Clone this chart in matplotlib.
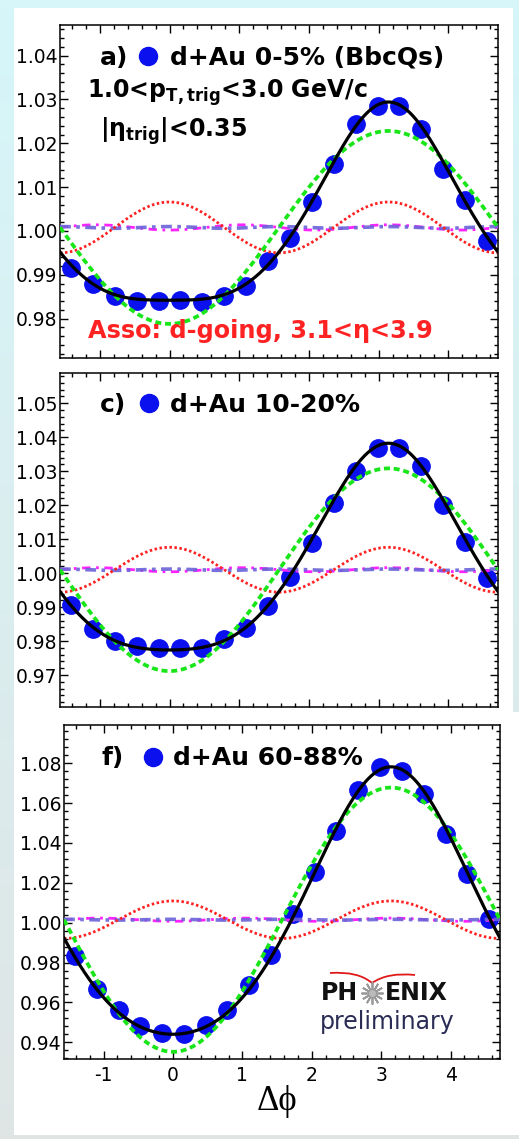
import numpy as np
import matplotlib
matplotlib.use("Agg")
import matplotlib.pyplot as plt
from matplotlib.patches import Rectangle, PathPatch
from matplotlib.path import Path
from matplotlib.ticker import MultipleLocator, FormatStrFormatter

plt.rcParams["axes.unicode_minus"] = False
W, H = 519, 1139

# bin centres in delta-phi (20 bins over [-pi/2, 3pi/2])
DPHI = [-1.414, -1.100, -0.785, -0.471, -0.157, 0.157, 0.471, 0.785, 1.100, 1.414,
        1.728, 2.042, 2.356, 2.670, 2.985, 3.299, 3.613, 3.927, 4.241, 4.555]

# correlation functions, one list per centrality class
CORR_0_5 = [0.9916, 0.9880, 0.9852, 0.9840, 0.9840, 0.9842, 0.9837, 0.9852, 0.9874, 0.9931,
            0.9985, 1.0066, 1.0153, 1.0245, 1.0284, 1.0284, 1.0232, 1.0141, 1.0070, 0.9976]
CORR_10_20 = [0.9907, 0.9836, 0.9800, 0.9786, 0.9781, 0.9781, 0.9781, 0.9805, 0.9839, 0.9902,
              0.9990, 1.0088, 1.0205, 1.0302, 1.0369, 1.0369, 1.0314, 1.0200, 1.0093, 0.9985]
CORR_60_88 = [0.9831, 0.9669, 0.9564, 0.9482, 0.9448, 0.9443, 0.9485, 0.9560, 0.9689, 0.9839,
              1.0042, 1.0254, 1.0460, 1.0664, 1.0781, 1.0759, 1.0644, 1.0446, 1.0246, 1.0020]

# Fourier fit C = b0 (1 + 2 sum_n c_n cos(n dphi)), per panel
B0 = [1.0008, 1.0010, 1.0015]
C1 = [-0.0110, -0.0149, -0.0331]
C2 = [0.0029, 0.0033, 0.0047]
C3 = [-0.0003, -0.0003, -0.0004]
C4 = [0.0001, 0.0001, 0.0001]

TAGS = ["a)", "c)", "f)"]
LABELS = ["d+Au 0-5% (BbcQs)", "d+Au 10-20%", "d+Au 60-88%"]
YLIMS = [(0.971, 1.047), (0.9606, 1.0589), (0.9316, 1.0992)]
YMAJOR = [0.01, 0.01, 0.02]
YMINOR = [0.002, 0.002, 0.004]
XTICKS = [-1, 0, 1, 2, 3, 4]

# axes boxes in pixels: left, top, right, bottom
BOXES = [(60, 25, 498, 358), (60, 373, 498, 707), (64, 725, 500, 1059)]
# legend rows: tag x, marker x, label x, baseline y, marker y
LEG = [(100, 148, 170, 65, 56), (100, 149, 170, 412, 403), (102, 153, 173, 765, 757)]

BLUE = "#0a10ee"
GREEN = "#19e619"
RED = "#ff2222"
MAGENTA = "#ff22ff"
PURPLE = "#6b62d9"

fig = plt.figure(figsize=(W / 100, H / 100), dpi=100)

# page background: pale cyan frame with a white sheet
bg = fig.add_axes([0, 0, 1, 1], zorder=-10)
top_c = np.array([0.84, 0.965, 0.98])
bot_c = np.array([0.875, 0.90, 0.90])
t = np.linspace(0, 1, 256)[:, None, None]
grad = top_c * (1 - t) + bot_c * t
bg.imshow(np.repeat(grad, 4, axis=1), extent=(0, W, H, 0), aspect="auto")
bg.add_patch(Rectangle((14, 8), 499, 704, facecolor="white", edgecolor="none"))
bg.add_patch(Rectangle((14, 712), 505, 423, facecolor="white", edgecolor="none"))
bg.set_xlim(0, W); bg.set_ylim(H, 0); bg.axis("off")

series = [CORR_0_5, CORR_10_20, CORR_60_88]
xs = np.linspace(-np.pi / 2, 3 * np.pi / 2, 500)

axes = []
for i, (l, tp, r, b) in enumerate(BOXES):
    ax = fig.add_axes([l / W, 1 - b / H, (r - l) / W, (b - tp) / H])
    axes.append(ax)
    b0, c = B0[i], [C1[i], C2[i], C3[i], C4[i]]
    comps = [b0 * (1 + 2 * cn * np.cos((n + 1) * xs)) for n, cn in enumerate(c)]
    fit = b0 * (1 + 2 * sum(cn * np.cos((n + 1) * xs) for n, cn in enumerate(c)))

    ax.plot(DPHI, series[i], "o", ms=12.5, color=BLUE, mec=BLUE, zorder=2)
    ax.plot(xs, comps[2], color=MAGENTA, lw=2.0, ls=(0, (3, 2, 1, 2)), zorder=3)
    ax.plot(xs, comps[3], color=PURPLE, lw=2.6, ls=(0, (3, 1.5, 1, 1.5)), alpha=0.9, zorder=3)
    ax.plot(xs, comps[1], color=RED, lw=2.0, ls=(0, (0.9, 0.9)), zorder=4)
    ax.plot(xs, comps[0], color=GREEN, lw=2.7, ls=(0, (1.6, 1.0)), zorder=4)
    ax.plot(xs, fit, color="black", lw=2.3, zorder=5)

    ax.set_xlim(-np.pi / 2, 3 * np.pi / 2)
    ax.set_ylim(*YLIMS[i])
    ax.xaxis.set_major_locator(MultipleLocator(1))
    ax.xaxis.set_minor_locator(MultipleLocator(0.2))
    ax.yaxis.set_major_locator(MultipleLocator(YMAJOR[i]))
    ax.yaxis.set_minor_locator(MultipleLocator(YMINOR[i]))
    ax.yaxis.set_major_formatter(FormatStrFormatter("%.2f"))
    ax.tick_params(which="both", direction="in", top=True, right=True, width=1.0, colors="black")
    ax.tick_params(which="major", length=6)
    ax.tick_params(which="minor", length=3)
    ax.tick_params(axis="y", labelsize=13.5, pad=2)
    ax.tick_params(axis="x", labelsize=13.5, pad=5)
    for sp in ax.spines.values():
        sp.set_linewidth(1.1)
    if i < 2:
        ax.tick_params(axis="x", labelbottom=False)
    else:
        ax.set_xticks(XTICKS)
        ax.set_xticklabels([str(v) for v in XTICKS])

# annotations drawn in pixel coordinates on a transparent overlay
ov = fig.add_axes([0, 0, 1, 1], zorder=10)
ov.set_xlim(0, W); ov.set_ylim(H, 0); ov.axis("off")
ov.patch.set_alpha(0)

for (xt, xm, xl, yb, ym), tag, lab in zip(LEG, TAGS, LABELS):
    ov.text(xt, yb, tag, fontsize=18, fontweight="bold", va="baseline", ha="left")
    ov.plot([xm], [ym], "o", ms=13, color=BLUE)
    ov.text(xl, yb, lab, fontsize=18, fontweight="bold", va="baseline", ha="left")

ov.text(87, 98, r"1.0<p$_{\mathbf{T,trig}}$<3.0 GeV/c", fontsize=17, fontweight="bold",
        va="baseline", ha="left")
ov.text(100, 137, r"|η$_{\mathbf{trig}}$|<0.35", fontsize=17, fontweight="bold",
        va="baseline", ha="left")
ov.text(88, 338, "Asso: d-going, 3.1<η<3.9", fontsize=17.3, fontweight="bold", color=RED,
        va="baseline", ha="left")

# x-axis title
ov.text(277, 1102, "Δϕ", fontsize=25, family=["Liberation Serif", "DejaVu Serif"],
        ha="center", va="center")

# PHENIX preliminary logo
ov.text(358, 993, "PH", fontsize=17, fontweight="bold", ha="right", va="center", color="#111111")
ov.text(385, 993, "ENIX", fontsize=17, fontweight="bold", ha="left", va="center", color="#111111")
ov.plot([372], [993], marker=(12, 2, 0), ms=16, mew=1.3, color="#9a9a9a")
ov.plot([372], [993], "o", ms=4, color="#bbbbbb")
wing = Path([(330, 973), (358, 971), (372, 983), (388, 972), (415, 975)],
            [Path.MOVETO, Path.CURVE3, Path.CURVE3, Path.CURVE3, Path.CURVE3])
ov.add_patch(PathPatch(wing, facecolor="none", edgecolor="#e01818", lw=1.3))
ov.text(387, 1022, "preliminary", fontsize=17, ha="center", va="center", color="#2a2c55")

fig.savefig("out.png", dpi=100, facecolor=fig.get_facecolor())
